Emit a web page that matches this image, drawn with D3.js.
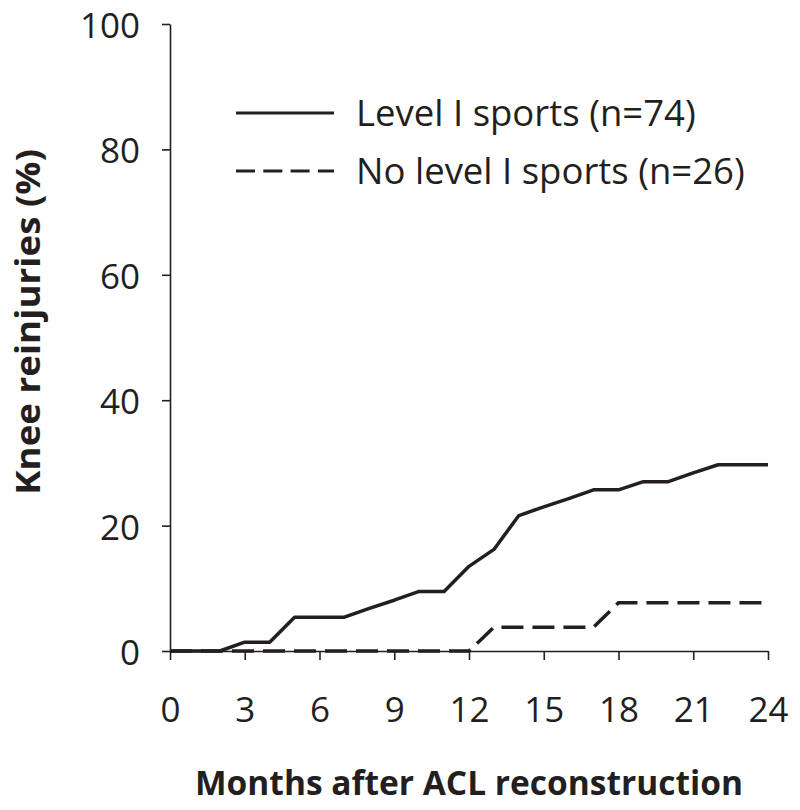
<!DOCTYPE html>
<html>
<head>
<meta charset="utf-8">
<script src="https://cdn.jsdelivr.net/npm/d3@7"></script>
<style>
  body { margin: 0; background: #fff; }
  svg { display: block; }
</style>
</head>
<body>
<div id="chart"></div>
<script>
// data (cumulative % reinjured, one value per month)
const months = [0, 1, 2, 3, 4, 5, 6, 7, 8, 9, 10, 11, 12, 13, 14, 15, 16, 17, 18, 19, 20, 21, 22, 23, 24];
const level1 = [0, 0, 0, 1.4, 1.4, 5.4, 5.4, 5.4, 6.8, 8.1, 9.5, 9.5, 13.5, 16.2, 21.6, 23.0, 24.3, 25.7, 25.7, 27.0, 27.0, 28.4, 29.7, 29.7, 29.7];
const noLevel1 = [0, 0, 0, 0, 0, 0, 0, 0, 0, 0, 0, 0, 0, 3.8, 3.8, 3.8, 3.8, 3.8, 7.7, 7.7, 7.7, 7.7, 7.7, 7.7, 7.7];
const xTicks = [0, 3, 6, 9, 12, 15, 18, 21, 24];
const yTicks = [0, 20, 40, 60, 80, 100];
const seriesNames = ["Level I sports (n=74)", "No level I sports (n=26)"];

const width = 800;
const height = 810;
const margin = { top: 24, right: 32, bottom: 159, left: 170 };

const x = d3.scaleLinear().domain([0, 24])
    .range([margin.left, width - margin.right]);
const y = d3.scaleLinear().domain([0, 100])
    .range([height - margin.bottom, margin.top]);

const svg = d3.select("#chart").append("svg")
    .attr("width", width)
    .attr("height", height)
    .attr("viewBox", [0, 0, width, height]);

const ink = "#231f20";
const font = "'Open Sans', sans-serif";

// axes
const xAxis = g => g
    .attr("transform", `translate(0,${y(0)})`)
    .call(d3.axisBottom(x).tickValues(xTicks).tickSizeInner(9).tickSizeOuter(0).tickPadding(37))
    .call(g => g.selectAll("text")
        .attr("font-family", font)
        .attr("font-size", 35)
        .attr("fill", ink));

const yAxis = g => g
    .attr("transform", `translate(${x(0)},0)`)
    .call(d3.axisLeft(y).tickValues(yTicks).tickSizeInner(8).tickSizeOuter(0).tickPadding(22))
    .call(g => g.selectAll("text")
        .attr("font-family", font)
        .attr("font-size", 35)
        .attr("dy", "0.386em")
        .attr("fill", ink));

svg.append("g").call(xAxis);
svg.append("g").call(yAxis);
svg.selectAll(".domain, .tick line").attr("stroke", ink).attr("stroke-width", 1.6);

// lines
const line = d3.line()
    .x((d, i) => x(months[i]))
    .y(d => y(d));

svg.append("path")
    .datum(noLevel1)
    .attr("fill", "none")
    .attr("stroke", ink)
    .attr("stroke-width", 3.5)
    .attr("stroke-dasharray", "22,9")
    .attr("d", line);

svg.append("path")
    .datum(level1)
    .attr("fill", "none")
    .attr("stroke", ink)
    .attr("stroke-width", 3.5)
    .attr("stroke-linejoin", "round")
    .attr("d", line);

// legend
const legend = svg.append("g");
seriesNames.forEach((name, i) => {
  const ly = 113 + i * 58;
  legend.append("line")
      .attr("x1", 236).attr("x2", 334)
      .attr("y1", ly).attr("y2", ly)
      .attr("stroke", ink)
      .attr("stroke-width", 3)
      .attr("stroke-dasharray", i === 0 ? null : "19,8.3");
  legend.append("text")
      .attr("x", 356)
      .attr("y", ly + 13)
      .attr("font-family", font)
      .attr("font-size", 36.5)
      .attr("fill", ink)
      .text(name);
});

// axis titles
svg.append("text")
    .attr("x", (x(0) + x(24)) / 2)
    .attr("y", 795)
    .attr("text-anchor", "middle")
    .attr("font-family", font)
    .attr("font-weight", "bold")
    .attr("font-size", 33.5)
    .attr("fill", ink)
    .text("Months after ACL reconstruction");

svg.append("text")
    .attr("transform", `translate(40,322) rotate(-90) scale(1.08,1)`)
    .attr("text-anchor", "middle")
    .attr("font-family", font)
    .attr("font-weight", "bold")
    .attr("font-size", 34)
    .attr("fill", ink)
    .text("Knee reinjuries (%)");
</script>
</body>
</html>
